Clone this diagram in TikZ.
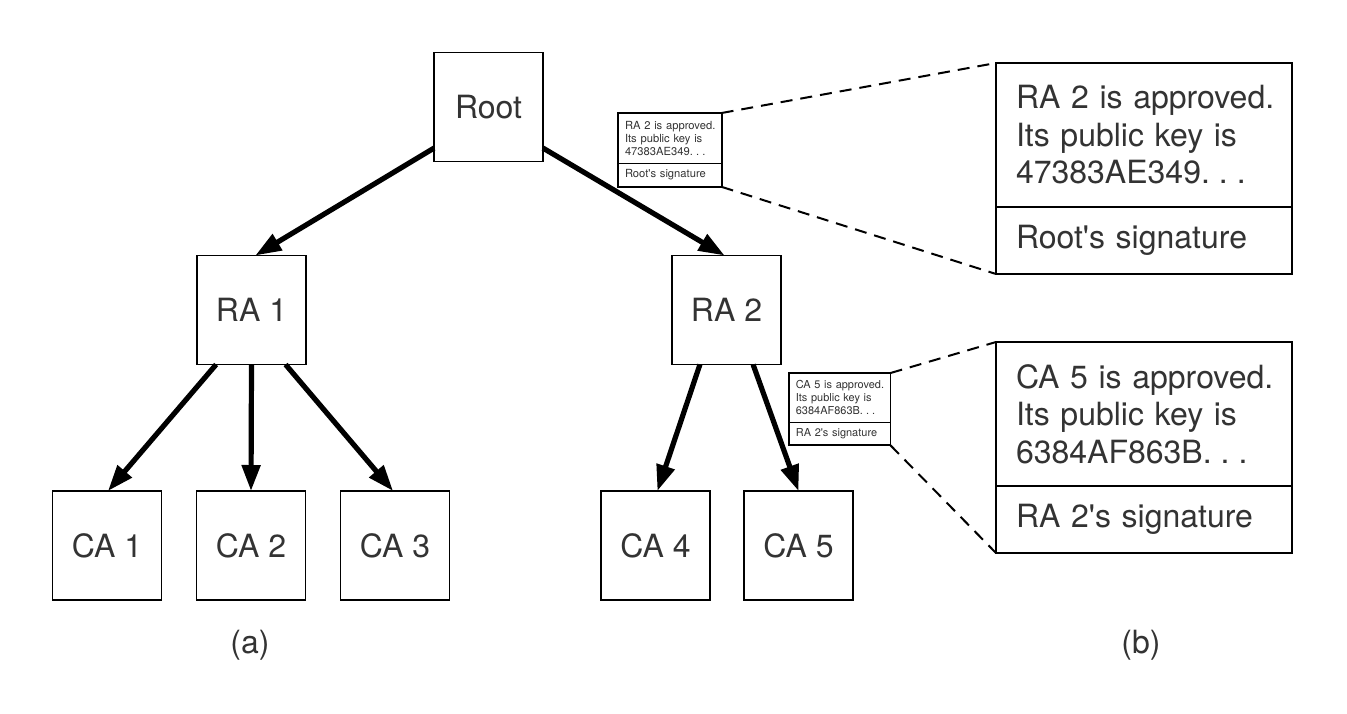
\documentclass[tikz,border=0pt]{standalone}
\usepackage{fontspec}
\setmainfont{TeX Gyre Heros}
\usetikzlibrary{arrows.meta}
\definecolor{txt}{HTML}{333333}
\newcommand{\msgbox}[3]{%
  \node[msgtop] (#1top) at (0,0) {#2};
  \node[msgbot] (#1bot) at (#1top.south west) {#3};
}
\newcommand{\spdots}{.\kern0.28em.\kern0.28em.}
\begin{document}
\begin{tikzpicture}[x=0.5pt,y=-0.5pt,
  box/.style={draw, line width=0.9pt, minimum width=54.5pt, minimum height=54.5pt,
    inner sep=0pt, outer sep=0pt, text=txt, font=\fontsize{16}{18}\selectfont},
  arr/.style={line width=2.6pt, -{Triangle[length=13pt,width=9pt]}},
  msgtop/.style={draw, line width=0.9pt, anchor=north west, minimum width=148pt,
    minimum height=72pt, text width=128pt, inner xsep=10pt, inner ysep=0pt,
    outer sep=0pt, align=left, text=txt, font=\fontsize{16}{18.75}\selectfont},
  msgbot/.style={draw, line width=0.9pt, anchor=north west, minimum width=148pt,
    minimum height=33.5pt, text width=128pt, inner xsep=10pt, inner ysep=0pt,
    text height=13pt, text depth=5.5pt,
    outer sep=0pt, align=left, text=txt, font=\fontsize{16}{18.75}\selectfont},
  zoomline/.style={line width=1pt, dash pattern=on 6pt off 4pt},
  lbl/.style={text=txt, font=\fontsize{16}{19}\selectfont}]
\useasboundingbox (0,0) rectangle (1347,713);

\node[box] (root) at (488.5,107) {Root};
\node[box] (ra1) at (251.5,310) {RA 1};
\node[box] (ra2) at (726.5,310) {RA 2};
\node[box] (ca1) at (107,545.5) {CA 1};
\node[box] (ca2) at (251,545.5) {CA 2};
\node[box] (ca3) at (395,545.5) {CA 3};
\node[box] (ca4) at (655.5,545.5) {CA 4};
\node[box] (ca5) at (798.5,545.5) {CA 5};

\draw[arr] (root.217) -- (ra1.86);
\draw[arr] (root.323) -- (ra2.92);
\draw[arr] (ra1.237) -- (ca1.89);
\draw[arr] (ra1.south) -- (ca2.north);
\draw[arr] (ra1.-58) -- (ca3.92);
\draw[arr] (ra2.244) -- (ca4.88);
\draw[arr] (ra2.-64) -- (ca5.north);

\begin{scope}[shift={(618,113)}, scale=0.35, transform shape]
  \msgbox{sa}{\mbox{RA 2 is approved.}\\\mbox{Its public key is}\\\mbox{47383AE349\spdots}}{\mbox{Root\textquotesingle s signature}}
\end{scope}
\begin{scope}[shift={(996,63)}]
  \msgbox{ba}{\mbox{RA 2 is approved.}\\\mbox{Its public key is}\\\mbox{47383AE349\spdots}}{\mbox{Root\textquotesingle s signature}}
\end{scope}
\begin{scope}[shift={(789,373)}, scale=0.343, transform shape]
  \msgbox{sb}{\mbox{CA 5 is approved.}\\\mbox{Its public key is}\\\mbox{6384AF863B\spdots}}{\mbox{RA 2\textquotesingle s signature}}
\end{scope}
\begin{scope}[shift={(996,342)}]
  \msgbox{bb}{\mbox{CA 5 is approved.}\\\mbox{Its public key is}\\\mbox{6384AF863B\spdots}}{\mbox{RA 2\textquotesingle s signature}}
\end{scope}

\draw[zoomline] (satop.north east) -- (batop.north west);
\draw[zoomline] (sabot.south east) -- (babot.south west);
\draw[zoomline] (sbtop.north east) -- (bbtop.north west);
\draw[zoomline] (sbbot.south east) -- (bbbot.south west);

\node[lbl] (la) at (250,645) {(a)};
\node[lbl] (lb) at (1141,645) {(b)};
\end{tikzpicture}
\end{document}
